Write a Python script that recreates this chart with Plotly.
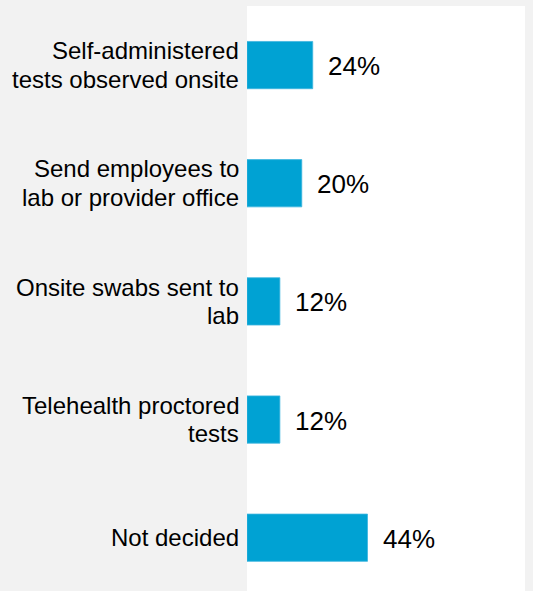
import plotly.graph_objects as go

categories = [
    "Self-administered tests observed onsite",
    "Send employees to lab or provider office",
    "Onsite swabs sent to lab",
    "Telehealth proctored tests",
    "Not decided",
]
label_lines = [
    ["Self-administered", "tests observed onsite"],
    ["Send employees to", "lab or provider office"],
    ["Onsite swabs sent to", "lab"],
    ["Telehealth proctored", "tests"],
    ["Not decided"],
]
values = [24, 20, 12, 12, 44]
value_labels = ["24%", "20%", "12%", "12%", "44%"]

BAR_COLOR = "#00A2D3"
FONT = "Liberation Sans, Arial, sans-serif"
LINE_STEP = 28.7

fig = go.Figure()
fig.add_trace(go.Bar(
    x=values,
    y=categories,
    orientation="h",
    marker=dict(color=BAR_COLOR, line=dict(color="#3DB5DE", width=0.8)),
    hoverinfo="skip",
    showlegend=False,
))

# value labels
for cat, v, lab in zip(categories, values, value_labels):
    fig.add_annotation(
        x=v, y=cat, text=lab, showarrow=False,
        xanchor="left", yanchor="middle", xshift=13, yshift=-1,
        font=dict(family=FONT, size=26, color="#000000"),
    )

# category labels (one annotation per line for tight line spacing)
for cat, lines in zip(categories, label_lines):
    n = len(lines)
    for i, line in enumerate(lines):
        offset = ((n - 1) / 2 - i) * LINE_STEP
        fig.add_annotation(
            xref="paper", x=0, y=cat, text=line, showarrow=False,
            xanchor="right", yanchor="middle", align="right",
            xshift=-6, yshift=offset,
            font=dict(family=FONT, size=24, color="#000000"),
        )

fig.update_layout(
    width=533, height=591,
    margin=dict(l=247, r=8, t=6, b=0, pad=0),
    paper_bgcolor="#F2F2F2",
    plot_bgcolor="#FFFFFF",
    bargap=0.6,
    font=dict(family=FONT, color="#000000"),
    xaxis=dict(range=[0, 101.5], visible=False, fixedrange=True),
    yaxis=dict(
        categoryorder="array", categoryarray=categories,
        range=[4.451, -0.5],
        showgrid=False, zeroline=False, showline=False, ticks="",
        showticklabels=False, fixedrange=True,
    ),
)

fig.write_html(
    "out.html",
    config={"displayModeBar": False},
    post_script="document.body.style.margin='0';document.body.style.overflow='hidden';",
)
